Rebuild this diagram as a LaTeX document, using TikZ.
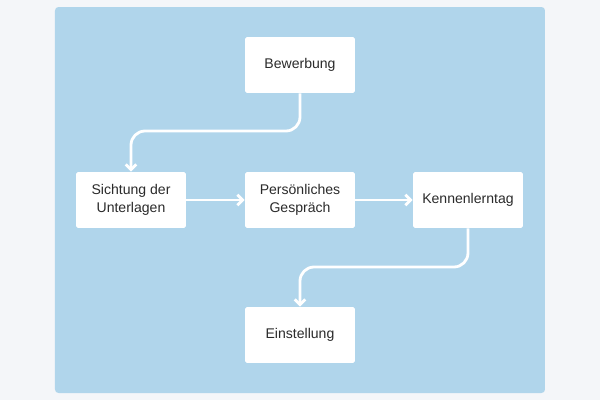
\documentclass[tikz,border=0pt]{standalone}
\usepackage{fontspec}
\setmainfont{Liberation Sans}
\usetikzlibrary{positioning,arrows.meta}
\definecolor{pagebg}{HTML}{F4F6F9}
\definecolor{panel}{HTML}{B0D5EB}
\definecolor{txt}{HTML}{2B2B2B}

\begin{document}
\begin{tikzpicture}[
    x=0.02cm, y=-0.02cm,
    box/.style={rectangle, fill=white, rounded corners=1pt, minimum height=1.12cm, minimum width=2.2cm, align=center, text=txt, font=\fontsize{8}{10}\selectfont},
    arrow/.style={-{Straight Barb[length=3pt,width=6pt]}, white, line width=1.6pt, rounded corners=8pt}
]
\fill[pagebg] (0,0) rectangle (600,400);
\fill[panel, rounded corners=2pt] (55,7) rectangle (545,393);

\node[box] (bew) at (300,65) {Bewerbung};
\node[box] (sicht) at (131,200) {Sichtung der\\Unterlagen};
\node[box] (gespr) at (300,200) {Persönliches\\Gespräch};
\node[box] (kenn) at (468,200) {Kennenlerntag};
\node[box] (einst) at (300,335) {Einstellung};

\draw[arrow] (bew.south) -- (300,131) -- (131,131) -- (sicht.north);
\draw[arrow] (sicht) -- (gespr);
\draw[arrow] (gespr) -- (kenn);
\draw[arrow] (kenn.south) -- (468,267) -- (300,267) -- (einst.north);
\end{tikzpicture}
\end{document}
